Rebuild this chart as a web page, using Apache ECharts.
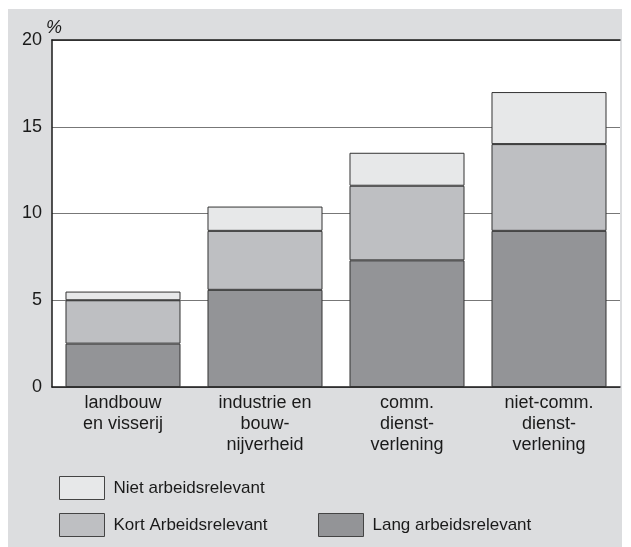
<!DOCTYPE html>
<html>
<head>
<meta charset="utf-8">
<script src="https://cdn.jsdelivr.net/npm/echarts@6/dist/echarts.min.js"></script>
<style>
  html, body { margin: 0; padding: 0; background: #fff; }
  #chart { width: 631px; height: 547px; }
</style>
</head>
<body>
<div id="chart"></div>
<script>
var categories = [
  'landbouw\nen visserij',
  'industrie en\nbouw-\nnijverheid',
  'comm.\ndienst-\nverlening',
  'niet-comm.\ndienst-\nverlening'
]
var langData = [2.5, 5.6, 7.3, 9.0]
var kortData = [2.5, 3.4, 4.3, 5.0]
var nietData = [0.5, 1.4, 1.9, 3.0]

var colors = {
  lang: '#939497',
  kort: '#bebfc2',
  niet: '#e7e8e9'
}
var font = '"Liberation Sans", Arial, sans-serif'

function legendAt (name, left, top) {
  return {
    data: [name],
    left: left,
    top: top,
    itemWidth: 45,
    itemHeight: 23,
    padding: 0,
    selectedMode: false,
    icon: 'rect',
    itemStyle: { borderColor: '#444', borderWidth: 1 },
    textStyle: { fontFamily: font, fontSize: 17, color: '#1a1a1a', padding: [0, 0, 0, 4] }
  }
}

function barSeries (name, data, color) {
  return {
    name: name,
    type: 'bar',
    stack: 'total',
    barWidth: '81%',
    data: data,
    itemStyle: { color: color, borderColor: '#333', borderWidth: 1 },
    emphasis: { disabled: true }
  }
}

var chart = echarts.init(document.getElementById('chart'))
chart.setOption({
  animation: false,
  graphic: [{
    type: 'rect',
    z: -10,
    shape: { x: 8, y: 9, width: 614, height: 538 },
    style: { fill: '#dcdddf' }
  }],
  grid: {
    left: 52,
    right: 11,
    top: 40,
    bottom: 160,
    show: true,
    backgroundColor: '#fff',
    borderWidth: 0
  },
  legend: [
    legendAt('Niet arbeidsrelevant', 59, 476),
    legendAt('Kort Arbeidsrelevant', 59, 513),
    legendAt('Lang arbeidsrelevant', 318, 513)
  ],
  xAxis: [
    {
      type: 'category',
      data: categories,
      axisLine: { lineStyle: { color: '#1a1a1a', width: 1.5 } },
      axisTick: { show: false },
      axisLabel: {
        interval: 0,
        margin: 6,
        fontFamily: font,
        fontSize: 18,
        lineHeight: 21,
        color: '#1a1a1a',
        verticalAlign: 'top'
      }
    },
    {
      type: 'category',
      position: 'top',
      data: categories,
      axisLine: { lineStyle: { color: '#1a1a1a', width: 1.5 } },
      axisTick: { show: false },
      axisLabel: { show: false }
    }
  ],
  yAxis: {
    type: 'value',
    min: 0,
    max: 20,
    interval: 5,
    name: '%',
    nameGap: 3,
    nameMoveOverlap: false,
    nameTextStyle: { fontFamily: font, fontSize: 18, fontStyle: 'italic', color: '#1a1a1a', align: 'left', padding: [0, 0, 0, -6] },
    axisLine: { show: true, lineStyle: { color: '#1a1a1a', width: 1.5 } },
    axisTick: { show: false },
    axisLabel: { margin: 10, fontFamily: font, fontSize: 18, color: '#1a1a1a' },
    splitLine: { lineStyle: { color: '#777', width: 1 } }
  },
  series: [
    barSeries('Lang arbeidsrelevant', langData, colors.lang),
    barSeries('Kort Arbeidsrelevant', kortData, colors.kort),
    barSeries('Niet arbeidsrelevant', nietData, colors.niet)
  ]
})
</script>
</body>
</html>
